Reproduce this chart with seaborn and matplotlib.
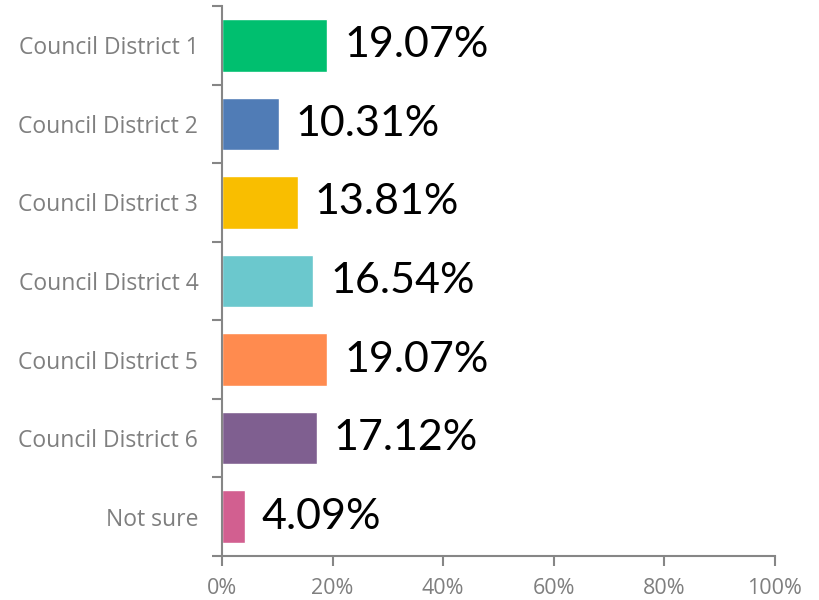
import numpy as np
import pandas as pd
import matplotlib.pyplot as plt
import seaborn as sns

categories = ['Council District 1', 'Council District 2', 'Council District 3',
              'Council District 4', 'Council District 5', 'Council District 6', 'Not sure']
values = [19.07, 10.31, 13.81, 16.54, 19.07, 17.12, 4.09]
colors = ['#00BF6F', '#507CB6', '#F9BE00', '#6BC8CD', '#FF8B4F', '#7F5F90', '#D25F90']
x_ticks = [0, 20, 40, 60, 80, 100]

df = pd.DataFrame({'category': categories, 'value': values})

sns.set_style('white')
plt.rcParams['font.family'] = ['Open Sans', 'DejaVu Sans']

fig = plt.figure(figsize=(8.19, 6), dpi=100)
ax = fig.add_axes([0.271, 0.0733, 0.675, 0.9167])

sns.barplot(data=df, x='value', y='category', hue='category', palette=colors,
            orient='h', width=0.67, legend=False, ax=ax, saturation=1)

# value labels to the right of each bar
for i, v in enumerate(values):
    ax.annotate(f'{v:.2f}%', (v, i), xytext=(12, 0), textcoords='offset points',
                va='center', ha='left', fontsize=31, color='black', family=['Lato'])

spine_c = '#868686'
ax.set_xlim(0, 100)
ax.set_ylim(6.5, -0.5)
ax.set_xticks(x_ticks)
ax.set_xticklabels([f'{t}%' for t in x_ticks])
ax.set_yticks(np.arange(-0.5, 7, 1), minor=True)
ax.tick_params(axis='y', which='major', length=0, pad=17, labelsize=16.5, labelcolor='#7F7F7F')
ax.tick_params(axis='y', which='minor', length=7, width=1.5, color=spine_c, left=True)
ax.tick_params(axis='x', which='major', length=7, width=1.5, color=spine_c, bottom=True,
               labelsize=15.5, labelcolor='#7F7F7F', pad=9)
ax.set_xlabel('')
ax.set_ylabel('')
for side in ['top', 'right']:
    ax.spines[side].set_visible(False)
for side in ['left', 'bottom']:
    ax.spines[side].set_color(spine_c)
    ax.spines[side].set_linewidth(1.5)

fig.savefig('out.png', dpi=100)
